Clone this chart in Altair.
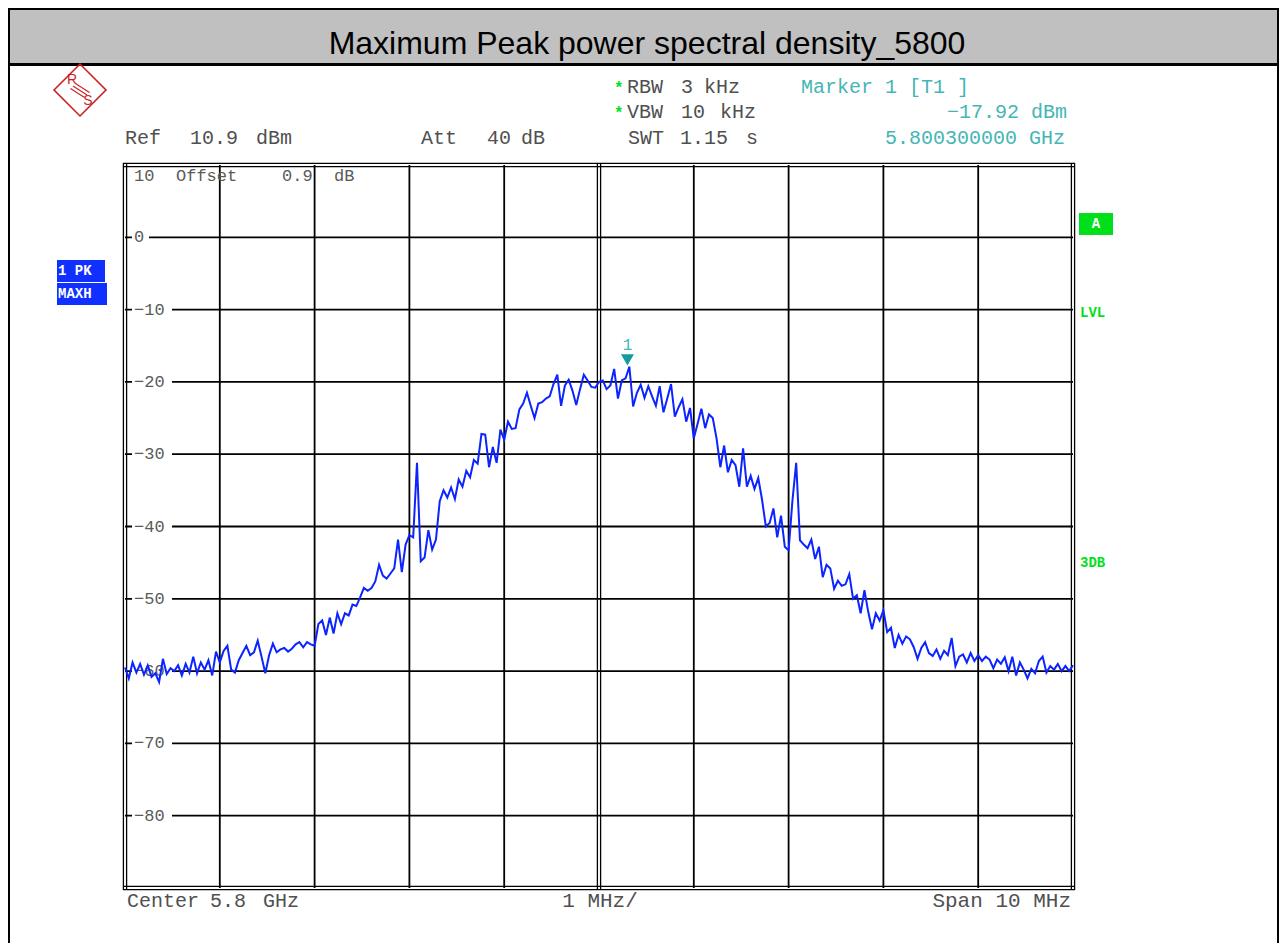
import altair as alt
import numpy as np
import pandas as pd

# ---------------- data ----------------
TITLE = "Maximum Peak power spectral density_5800"
SPAN_MHZ = 10.0          # center 5.8 GHz, span 10 MHz
N_POINTS = 251           # sweep points used for the trace
LEVEL_DBM = [
    -59.5, -61.0, -58.8, -60.2, -59.0, -60.5, -59.2, -60.8, -60.3, -61.5,
    -58.3, -60.4, -59.6, -60.0, -59.2, -60.6, -59.0, -60.2, -58.0, -60.3,
    -58.8, -59.8, -58.5, -60.6, -57.3, -58.8,
    -57.2, -56.5, -59.8, -60.2, -58.5, -57.5, -56.5, -57.8, -57.4, -55.8,
    -58.0, -60.3, -57.8, -56.2, -57.4, -57.0, -56.8, -57.3, -56.9, -56.3,
    -56.0, -56.7, -56.0, -56.3, -56.5,
    -53.5, -53.0, -55.0, -52.6, -54.8, -52.0, -53.5, -52.0, -52.3, -50.8,
    -51.0, -49.8, -48.5, -48.9, -48.5, -47.6, -45.3, -46.8, -47.2, -46.5,
    -45.8, -41.8, -46.3, -42.5, -41.2,
    -41.5, -31.2, -44.8, -44.3, -40.5, -43.2, -41.8, -36.5, -35.0, -36.0,
    -34.6, -36.2, -33.5, -34.5, -32.3, -33.2, -30.8, -31.3, -27.2, -27.3,
    -31.8, -29.0, -31.2, -26.6, -28.0,
    -25.5, -26.5, -26.4, -23.8, -23.0, -21.5, -23.3, -25.0, -23.0, -22.8,
    -22.3, -22.0, -20.3, -19.0, -23.3, -20.5, -19.7, -21.2, -23.2, -21.0,
    -19.0, -19.8, -20.7, -20.8, -20.0,
    -19.8, -21.0, -20.5, -18.2, -22.3, -19.8, -19.5, -17.9, -23.4, -21.5,
    -20.4, -22.2, -20.6, -22.0, -23.3, -20.6, -24.2, -22.3, -20.3, -24.8,
    -23.5, -22.4, -25.5, -23.6, -27.8,
    -25.8, -23.7, -26.4, -24.5, -25.0, -27.8, -31.8, -28.8, -32.5, -30.8,
    -31.5, -34.5, -29.2, -34.5, -33.0, -34.8, -33.3, -36.3, -40.0, -39.5,
    -37.5, -41.5, -38.5, -42.8, -43.3,
    -36.5, -31.2, -41.9, -42.5, -43.0, -41.8, -44.5, -42.8, -47.0, -45.3,
    -45.8, -48.6, -47.5, -48.2, -48.0, -46.6, -50.0, -49.5, -52.0, -48.8,
    -51.8, -54.2, -52.0, -53.0, -51.6,
    -54.6, -54.0, -56.8, -55.0, -56.2, -55.2, -55.6, -56.7, -58.3, -56.8,
    -56.0, -57.5, -57.9, -57.0, -58.3, -57.2, -57.8, -55.4, -59.3, -58.0,
    -57.7, -58.8, -57.5, -58.6, -57.8,
    -58.6, -58.0, -58.4, -59.6, -58.4, -59.0, -58.1, -60.0, -58.0, -60.6,
    -58.8, -59.8, -61.0, -59.7, -60.3, -58.6, -58.0, -60.2, -59.3, -59.8,
    -59.0, -60.0, -59.3, -60.0, -59.2,
]
Y_TICKS = [0, -10, -20, -30, -40, -50, -60, -70, -80]
X_GRID = [-4, -3, -2, -1, 1, 2, 3, 4]
X_DOMAIN = [-5, 5]
Y_DOMAIN = [-90, 10]
MARKER_F = [0.3]
MARKER_DB = [-17.92]

# ---------------- layout helpers ----------------
W, H = 948, 723            # plot area
PX0, PY0 = 125, 165        # page position of plot origin
PAD = {"left": PX0 - 8, "top": PY0 - 8, "right": 1271 - (PX0 - 8) - W,
       "bottom": 935 - (PY0 - 8) - H}
MONO = "Liberation Mono"
SANS = "Liberation Sans"
GRAY_TXT = "#505050"
TEAL = "#45b5b5"
GREEN = "#00e01a"
BLUE_BOX = "#1030ff"


def X(px):
    return px - PX0


def Y(py):
    return py - PY0


one = pd.DataFrame({"k": [0]})


def txt(s, px, py, color=GRAY_TXT, size=20, font=MONO, align="left",
        weight="normal", baseline="alphabetic"):
    return alt.Chart(one).mark_text(
        text=s, color=color, fontSize=size, font=font, align=align,
        fontWeight=weight, baseline=baseline
    ).encode(x=alt.value(X(px)), y=alt.value(Y(py)))


def box(px1, py1, px2, py2, color):
    return alt.Chart(one).mark_rect(color=color).encode(
        x=alt.value(X(px1)), x2=alt.value(X(px2)),
        y=alt.value(Y(py1)), y2=alt.value(Y(py2)))


def seg(px1, py1, px2, py2, color="black", w=1.0):
    return alt.Chart(one).mark_rule(color=color, strokeWidth=w).encode(
        x=alt.value(X(px1)), x2=alt.value(X(px2)),
        y=alt.value(Y(py1)), y2=alt.value(Y(py2)))


xs = alt.Scale(domain=X_DOMAIN, nice=False, zero=False)
ys = alt.Scale(domain=Y_DOMAIN, nice=False, zero=False)

freq = np.linspace(X_DOMAIN[0], X_DOMAIN[1], N_POINTS)
trace_df = pd.DataFrame({"f": freq, "db": LEVEL_DBM})
vgrid_df = pd.DataFrame({"f": X_GRID})
hgrid_df = pd.DataFrame({"db": Y_TICKS,
                         "lab": [str(v).replace("-", "\u2212") for v in Y_TICKS]})
marker_df = pd.DataFrame({"f": MARKER_F, "db": MARKER_DB})

layers = []

# page frame and title band
layers.append(box(8, 8, 1279, 63, "#c0c0c0"))
layers.append(seg(8, 64.5, 1279, 64.5, "black", 3))
layers.append(seg(9, 8, 9, 943, "black", 2))
layers.append(seg(1278, 8, 1278, 943, "black", 2))
layers.append(seg(8, 9, 1279, 9, "black", 2))
layers.append(txt(TITLE, 647, 54, color="black", size=32, font=SANS,
                  align="center"))

# grid
layers.append(alt.Chart(vgrid_df).mark_rule(color="black", strokeWidth=1.8).encode(
    x=alt.X("f:Q", scale=xs, axis=None), y=alt.value(0), y2=alt.value(H)))
layers.append(alt.Chart(hgrid_df).mark_rule(color="black", strokeWidth=1.8).encode(
    y=alt.Y("db:Q", scale=ys, axis=None), x=alt.value(0), x2=alt.value(W)))

# double lines: borders and center
for fval in (X_DOMAIN[0], 0, X_DOMAIN[1]):
    for off in (-1.6, 1.6):
        layers.append(alt.Chart(pd.DataFrame({"f": [fval]})).mark_rule(
            color="black", strokeWidth=1.3, xOffset=off).encode(
            x=alt.X("f:Q", scale=xs, axis=None), y=alt.value(-2), y2=alt.value(H + 2)))
for dval in Y_DOMAIN:
    for off in (-1.6, 1.6):
        layers.append(alt.Chart(pd.DataFrame({"db": [dval]})).mark_rule(
            color="black", strokeWidth=1.3, yOffset=off).encode(
            y=alt.Y("db:Q", scale=ys, axis=None), x=alt.value(-2), x2=alt.value(W + 2)))

# white strips behind the level labels
layers.append(alt.Chart(hgrid_df).transform_filter("datum.db == 0").mark_rule(
    color="white", strokeWidth=14, strokeCap="butt").encode(
    y=alt.Y("db:Q", scale=ys, axis=None), x=alt.value(X(132)), x2=alt.value(X(149))))
layers.append(alt.Chart(hgrid_df).transform_filter("datum.db != 0").mark_rule(
    color="white", strokeWidth=14, strokeCap="butt").encode(
    y=alt.Y("db:Q", scale=ys, axis=None), x=alt.value(X(132)), x2=alt.value(X(172))))
layers.append(alt.Chart(hgrid_df).mark_text(
    align="left", baseline="middle", font=MONO, fontSize=17, color="#5a5a5a").encode(
    y=alt.Y("db:Q", scale=ys, axis=None), x=alt.value(X(134)), text="lab:N"))

# top-left label
layers.append(txt("10", 134, 181, size=17, color="#5a5a5a"))
layers.append(txt("Offset", 176, 181, size=17, color="#5a5a5a"))
layers.append(txt("0.9", 282, 181, size=17, color="#5a5a5a"))
layers.append(txt("dB", 334, 181, size=17, color="#5a5a5a"))

# trace
layers.append(alt.Chart(trace_df).mark_line(color="#0c24ff", strokeWidth=2).encode(
    x=alt.X("f:Q", scale=xs, axis=None), y=alt.Y("db:Q", scale=ys, axis=None)))

# marker
layers.append(alt.Chart(marker_df).mark_point(
    shape="triangle-down", filled=True, color="#149c9c", size=170, opacity=1,
    yOffset=-7).encode(
    x=alt.X("f:Q", scale=xs, axis=None), y=alt.Y("db:Q", scale=ys, axis=None)))
layers.append(alt.Chart(marker_df).mark_text(
    text="1", color=TEAL, fontSize=16, font=MONO, dy=-22).encode(
    x=alt.X("f:Q", scale=xs, axis=None), y=alt.Y("db:Q", scale=ys, axis=None)))

# header texts
layers.append(txt("*", 614, 93, color=GREEN, size=16, weight="bold"))
layers.append(txt("*", 614, 118, color=GREEN, size=16, weight="bold"))
for s, px in [("RBW", 627), ("3", 681), ("kHz", 704)]:
    layers.append(txt(s, px, 93))
for s, px in [("VBW", 627), ("10", 681), ("kHz", 720)]:
    layers.append(txt(s, px, 118))
for s, px in [("Ref", 125), ("10.9", 190), ("dBm", 256), ("Att", 421),
              ("40", 487), ("dB", 521), ("SWT", 628), ("1.15", 680), ("s", 746)]:
    layers.append(txt(s, px, 144))
layers.append(txt("Marker 1 [T1 ]", 801, 93, color=TEAL))
layers.append(txt("\u221217.92 dBm", 1067, 118, color=TEAL, align="right"))
layers.append(txt("5.800300000 GHz", 1065, 144, color=TEAL, align="right"))

# bottom texts
for s, px in [("Center", 127), ("5.8", 210), ("GHz", 263)]:
    layers.append(txt(s, px, 907))
layers.append(txt("1 MHz/", 600, 907, align="center", size=21))
layers.append(txt("Span 10 MHz", 1071, 907, align="right", size=21))

# left trace info boxes
layers.append(box(57, 260, 105, 282, BLUE_BOX))
layers.append(box(57, 283, 107, 305, BLUE_BOX))
layers.append(txt("1 PK", 58, 271, color="white", size=14, weight="bold",
                  baseline="middle"))
layers.append(txt("MAXH", 58, 294, color="white", size=14, weight="bold",
                  baseline="middle"))

# right side labels
layers.append(box(1079, 213, 1113, 235, GREEN))
layers.append(txt("A", 1096, 224, color="white", size=14, weight="bold",
                  align="center", baseline="middle"))
layers.append(txt("LVL", 1080, 313, color=GREEN, size=14, weight="bold",
                  baseline="middle"))
layers.append(txt("3DB", 1080, 563, color=GREEN, size=14, weight="bold",
                  baseline="middle"))

# R&S logo
LOGO_RED = "#cc1f1f"
layers.append(alt.Chart(one).mark_point(
    shape="diamond", filled=False, color=LOGO_RED, size=2700, strokeWidth=1.6,
    opacity=1).encode(x=alt.value(X(80)), y=alt.value(Y(90))))
layers.append(txt("R", 72, 80, color=LOGO_RED, size=14, font=SANS,
                  align="center", baseline="middle"))
layers.append(txt("S", 88, 101, color=LOGO_RED, size=14, font=SANS,
                  align="center", baseline="middle"))
for d in (-2.5, 0, 2.5):
    layers.append(seg(73 + d, 86 - d, 87 + d, 95 - d, LOGO_RED, 1.1))

chart = alt.layer(*layers).properties(
    width=W, height=H,
    autosize=alt.AutoSizeParams(type="none"),
    padding=PAD,
    background="white",
).configure_view(stroke=None)

chart.save("out.html", embed_options={"renderer": "svg", "actions": False})
